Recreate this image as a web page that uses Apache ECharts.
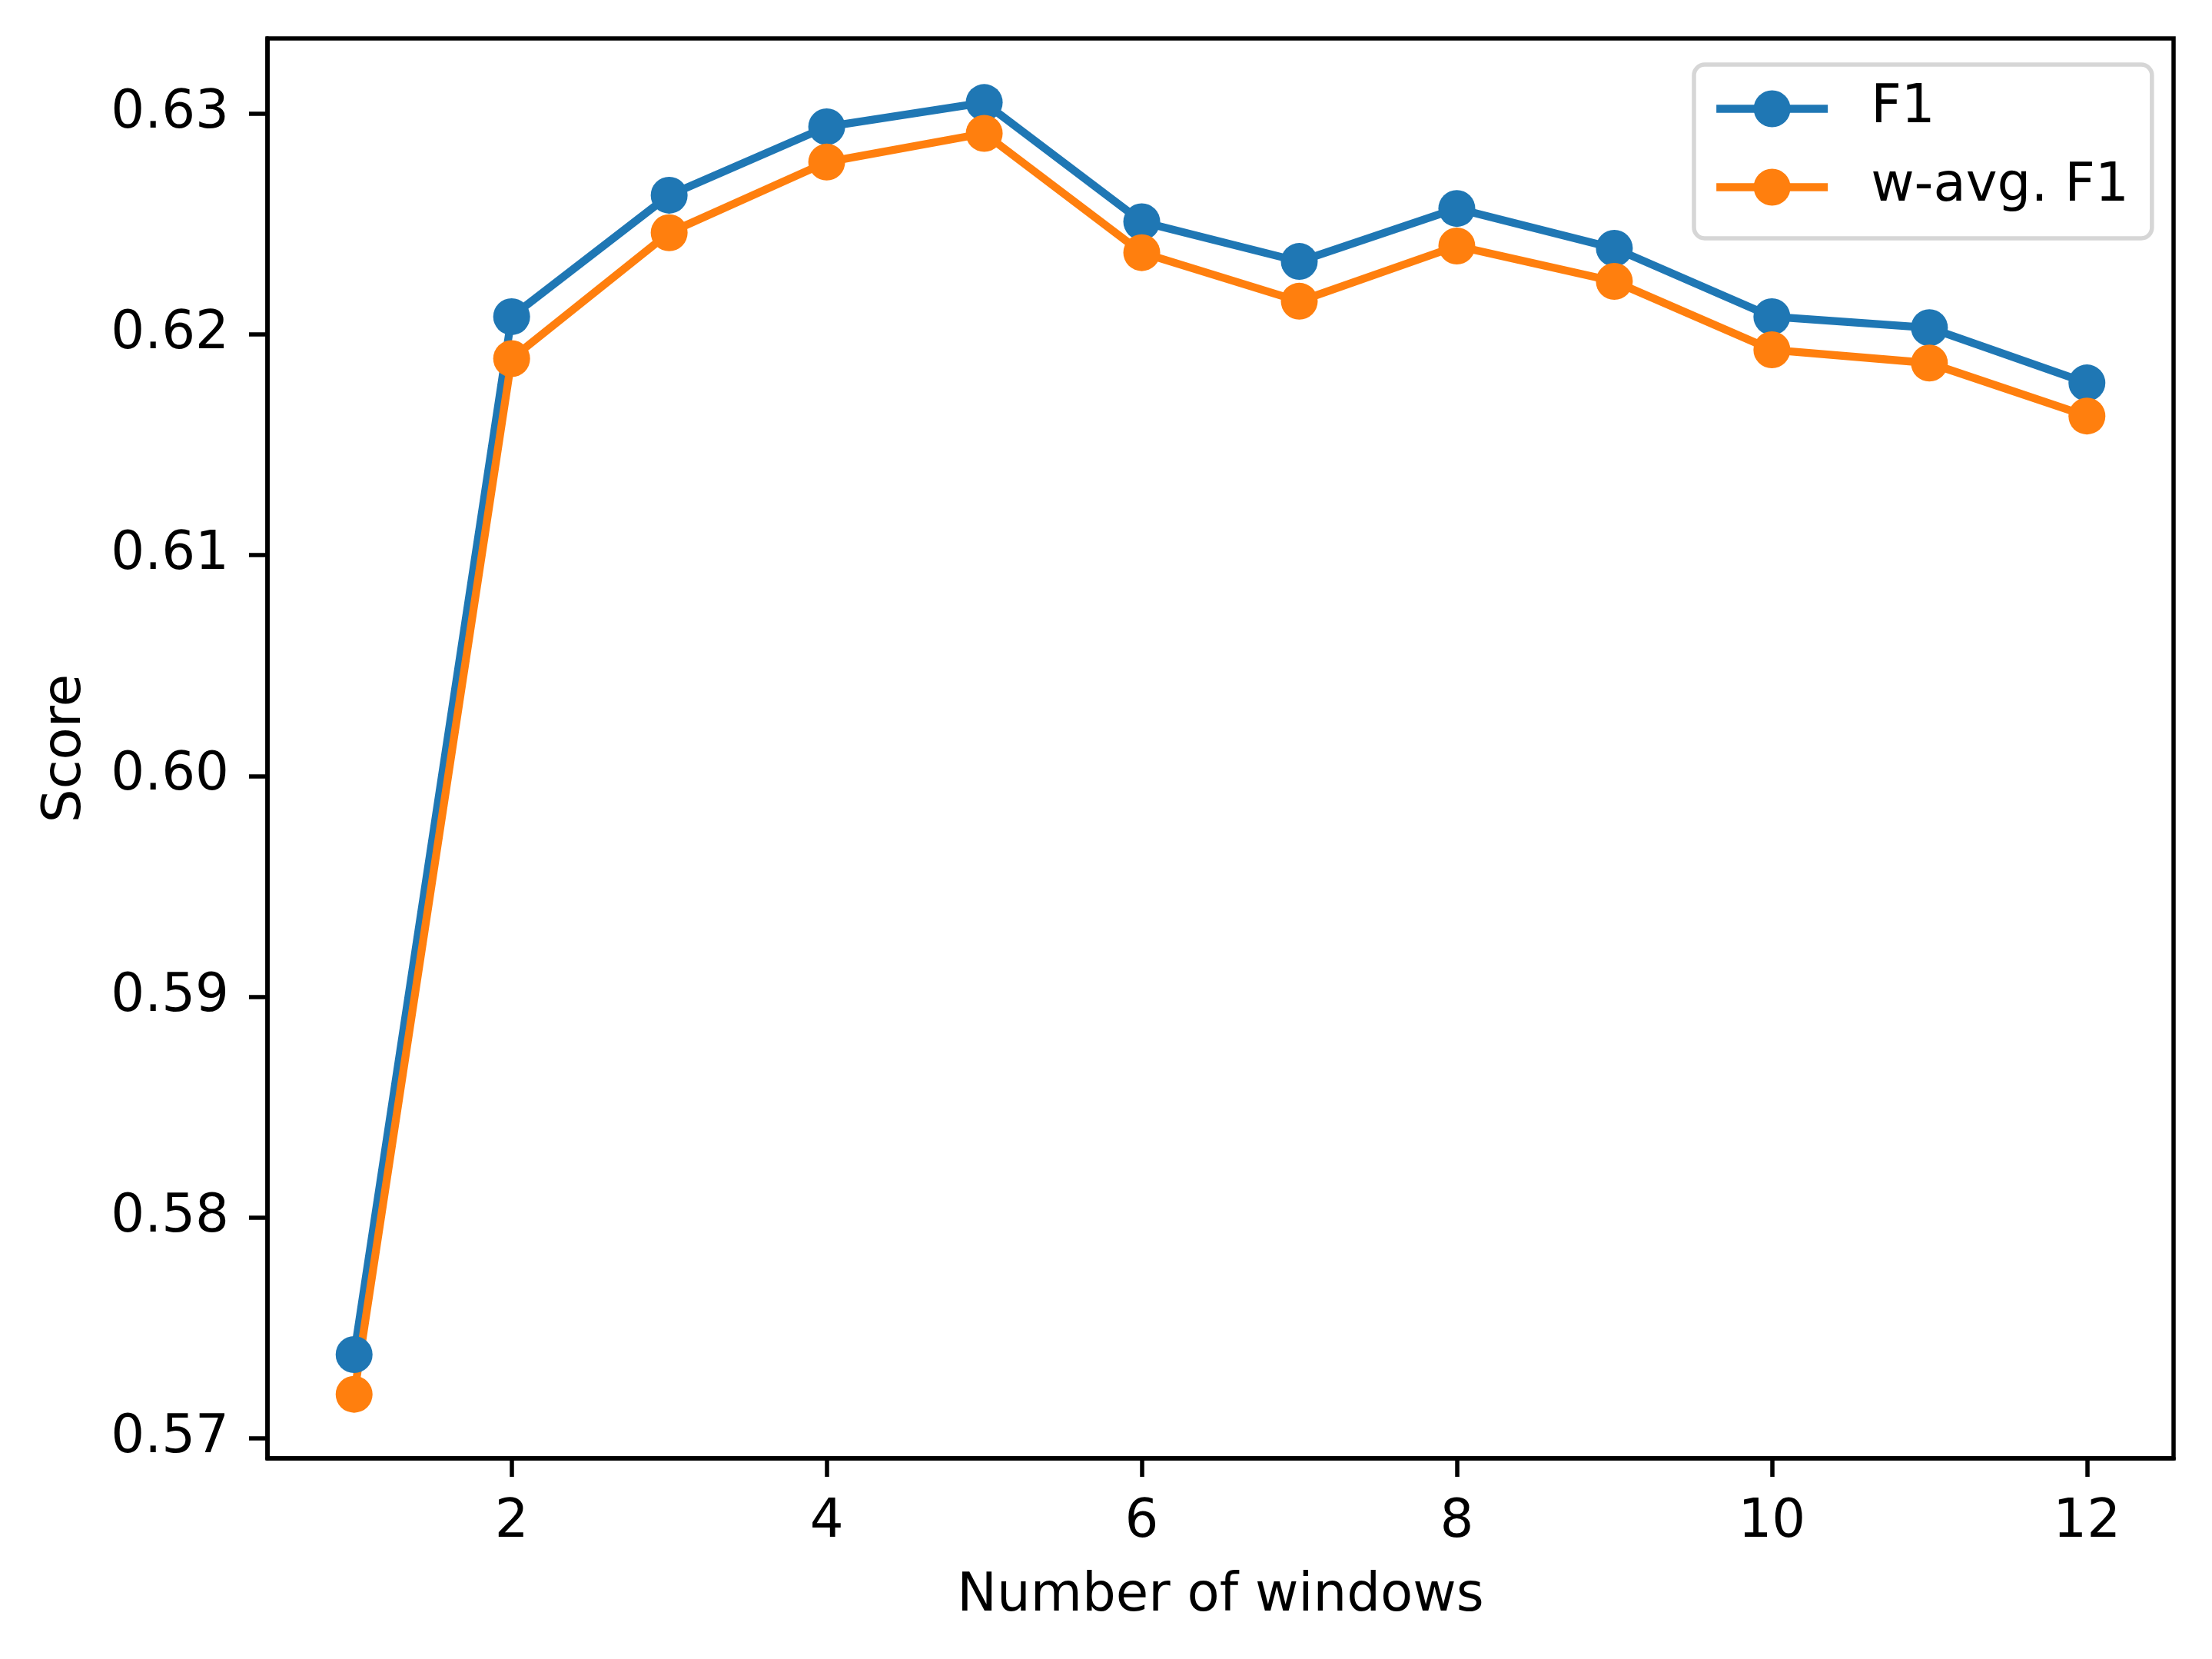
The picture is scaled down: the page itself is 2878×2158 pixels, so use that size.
<!DOCTYPE html>
<html>
<head>
<meta charset="utf-8">
<script src="https://cdn.jsdelivr.net/npm/echarts@6/dist/echarts.min.js"></script>
<style>
html,body{margin:0;padding:0;background:#fff;}
#chart{width:2878px;height:2158px;}
</style>
</head>
<body>
<div id="chart"></div>
<script>
const windows = [1, 2, 3, 4, 5, 6, 7, 8, 9, 10, 11, 12];
const f1 = [0.5738, 0.6208, 0.6263, 0.6294, 0.6305, 0.6251, 0.6233, 0.6257, 0.6239, 0.6208, 0.6203, 0.6178];
const wavgF1 = [0.5720, 0.6189, 0.6246, 0.6278, 0.6291, 0.6237, 0.6215, 0.6240, 0.6224, 0.6193, 0.6187, 0.6163];
const xTicks = [2, 4, 6, 8, 10, 12];
const yTicks = [0.57, 0.58, 0.59, 0.60, 0.61, 0.62, 0.63];

const FONT = 'DejaVu Sans';
const FS = 69;
const chart = echarts.init(document.getElementById('chart'), null, {renderer: 'canvas'});

function pairs(ys) { return windows.map((x, i) => [x, ys[i]]); }

chart.setOption({
  animation: false,
  backgroundColor: '#ffffff',
  textStyle: {fontFamily: FONT},
  grid: {
    left: 348, top: 50, right: 50, bottom: 261,
    show: true, borderColor: '#000', borderWidth: 5.5, backgroundColor: 'transparent',
    outerBoundsMode: 'none'
  },
  legend: {
    orient: 'vertical',
    left: 2204, top: 84,
    padding: [23, 30, 32, 24],
    itemWidth: 145, itemHeight: 60, itemGap: 33,
    backgroundColor: '#fff',
    borderColor: '#d6d6d6', borderWidth: 5.5, borderRadius: 14,
    lineStyle: {width: 10.3},
    textStyle: {fontFamily: FONT, fontSize: FS, color: '#000', lineHeight: 69, padding: [0, 0, 0, 51]},
    data: ['F1', 'w-avg. F1']
  },
  xAxis: {
    type: 'value', min: 0.45, max: 12.55,
    name: 'Number of windows', nameLocation: 'middle', nameGap: 146,
    nameTextStyle: {fontFamily: FONT, fontSize: FS, color: '#000', lineHeight: 69},
    axisLine: {show: true, onZero: false, lineStyle: {color: '#000', width: 5.5}},
    axisTick: {show: true, inside: false, length: 24, lineStyle: {color: '#000', width: 5.5}, customValues: xTicks},
    axisLabel: {show: true, margin: 50, fontFamily: FONT, fontSize: FS, color: '#000', lineHeight: 69, customValues: xTicks, formatter: v => String(v)},
    splitLine: {show: false}
  },
  yAxis: {
    type: 'value', min: 0.5691, max: 0.6334,
    name: 'Score', nameLocation: 'middle', nameGap: 227,
    nameTextStyle: {fontFamily: FONT, fontSize: FS, color: '#000', lineHeight: 69},
    axisLine: {show: true, onZero: false, lineStyle: {color: '#000', width: 5.5}},
    axisTick: {show: true, inside: false, length: 24, lineStyle: {color: '#000', width: 5.5}, customValues: yTicks},
    axisLabel: {show: true, margin: 50, fontFamily: FONT, fontSize: FS, color: '#000', customValues: yTicks, formatter: v => v.toFixed(2)},
    splitLine: {show: false}
  },
  series: [
    {
      name: 'F1', type: 'line', data: pairs(f1),
      symbol: 'circle', symbolSize: 48, showSymbol: true,
      lineStyle: {color: '#1f77b4', width: 10.3},
      itemStyle: {color: '#1f77b4', borderWidth: 0},
      emphasis: {disabled: true}
    },
    {
      name: 'w-avg. F1', type: 'line', data: pairs(wavgF1),
      symbol: 'circle', symbolSize: 48, showSymbol: true,
      lineStyle: {color: '#ff7f0e', width: 10.3},
      itemStyle: {color: '#ff7f0e', borderWidth: 0},
      emphasis: {disabled: true}
    }
  ]
});
</script>
</body>
</html>
